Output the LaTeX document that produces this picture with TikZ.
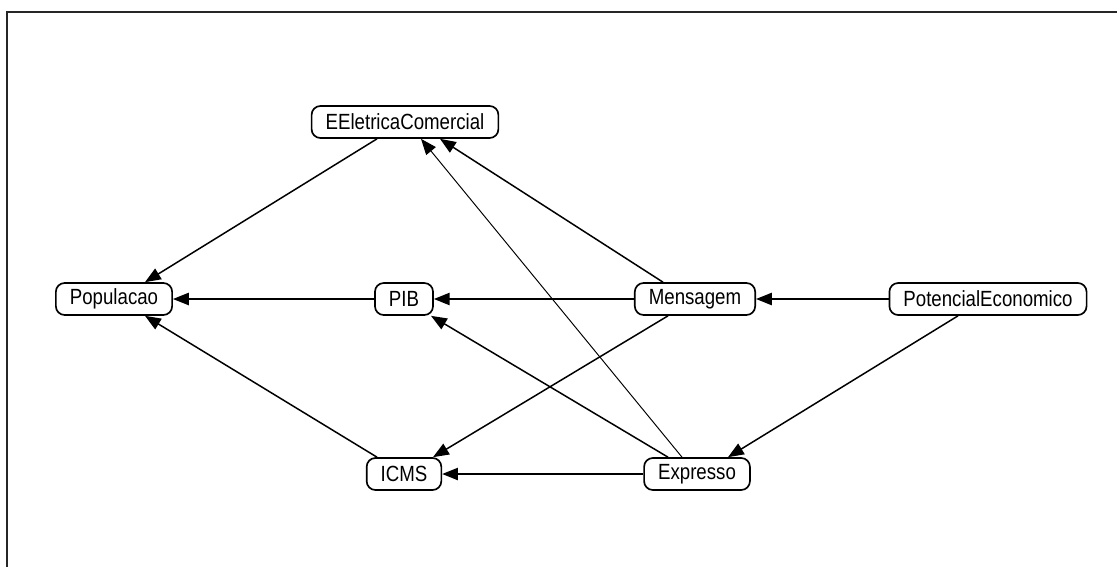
\documentclass[tikz,border=0pt]{standalone}
\usepackage{fontspec}
\setmainfont{Liberation Sans}[FakeStretch=0.85]
\usetikzlibrary{arrows.meta}

\begin{document}
\begin{tikzpicture}[
  var/.style={draw,rounded corners=5pt,line width=0.95pt,minimum height=0.64cm,
    inner xsep=0.28cm,inner ysep=0pt,font=\fontsize{12.5}{14}\selectfont},
  rel/.style={-{Triangle[length=9pt,width=7pt]},line width=0.85pt}]
  \useasboundingbox (0,0) rectangle (22.34,-11.34);
  \draw[line width=1.1pt,black!85] (0.14,-11.34) -- (0.14,-0.24) -- (22.34,-0.24);
  \node[var] (EEC) at (8.10,-2.44) {EEletricaComercial};
  \node[var] (Pop) at (2.28,-5.98) {Populacao};
  \node[var] (PIB) at (8.08,-5.98) {PIB};
  \node[var] (Men) at (13.90,-5.98) {Mensagem};
  \node[var] (Pot) at (19.76,-5.98) {PotencialEconomico};
  \node[var] (ICMS) at (8.08,-9.48) {ICMS};
  \node[var] (Exp) at (13.94,-9.48) {Expresso};
  \draw[rel] ([xshift=-0.56cm]EEC.south) -- ([xshift=0.62cm]Pop.north);
  \draw[rel] (PIB.west) -- (Pop.east);
  \draw[rel] ([xshift=-0.54cm]ICMS.north) -- ([xshift=0.62cm]Pop.south);
  \draw[rel] (Men.west) -- (PIB.east);
  \draw[rel] ([xshift=-0.64cm]Men.north) -- ([xshift=0.70cm]EEC.south);
  \draw[rel,line width=0.55pt] ([xshift=-0.30cm]Exp.north) -- ([xshift=0.32cm]EEC.south);
  \draw[rel] ([xshift=-0.58cm]Exp.north) -- ([xshift=0.54cm]PIB.south);
  \draw[rel] ([xshift=-0.54cm]Men.south) -- ([xshift=0.58cm]ICMS.north);
  \draw[rel] (Exp.west) -- (ICMS.east);
  \draw[rel] (Pot.west) -- (Men.east);
  \draw[rel] ([xshift=-0.60cm]Pot.south) -- ([xshift=0.62cm]Exp.north);
\end{tikzpicture}
\end{document}
